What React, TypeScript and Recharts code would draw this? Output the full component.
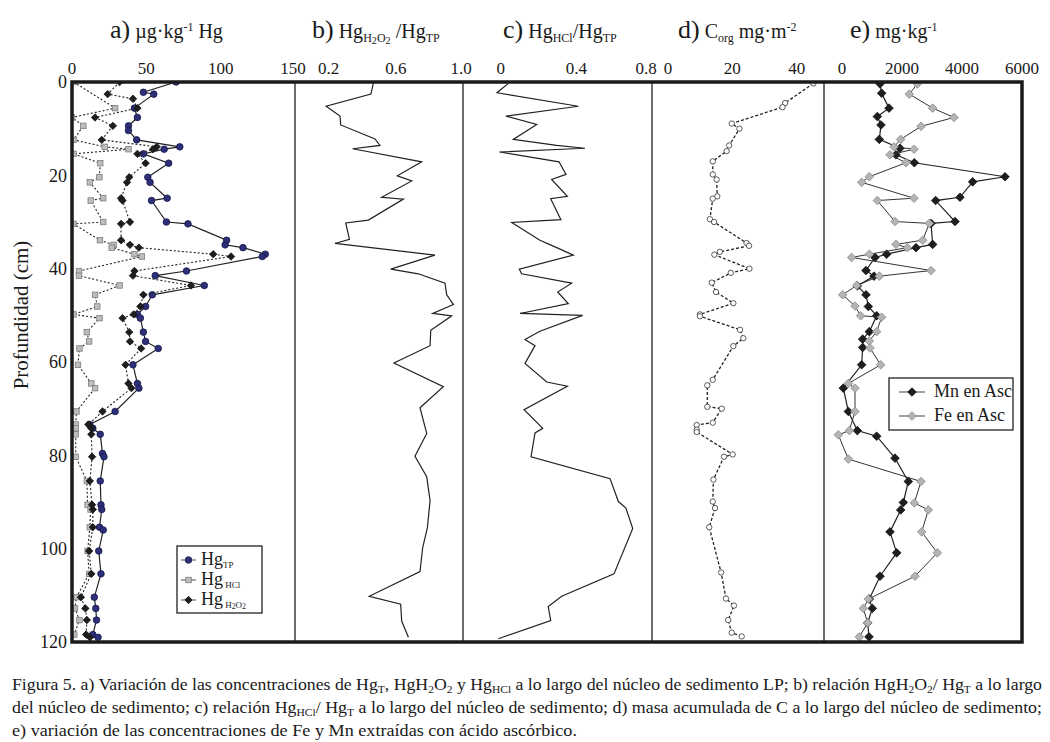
import React from "react";
import { ScatterChart, Scatter, XAxis, YAxis } from "recharts";

const FONT = '"Times New Roman", "Liberation Serif", Tinos, serif';
const INK = "#1a1a1a";
const W = 1050;
const H = 742;
const TOP = 82;
const BOTTOM = 642;
const PAD = 24;

// [depth cm, value]
const hgTP: [number, number][] = [
  [0, 70], [2.2, 48], [2.6, 55], [5.6, 42], [7.6, 44], [9.4, 38], [10.4, 38], [12.4, 43.5],
  [13.9, 72.5], [14.4, 62], [15.4, 48], [17.4, 65], [20.4, 51], [21.5, 52.5], [24.9, 64],
  [25.4, 53.5], [30, 63.5], [30.4, 78], [33.9, 104], [34.9, 103], [35.5, 115], [36.9, 130],
  [37.4, 128], [40.5, 77], [41.5, 56], [43.6, 89], [45.6, 54], [48.1, 49.5], [49.8, 44],
  [50.6, 46], [53.6, 48], [55.6, 49.5], [57.1, 58], [60.6, 41], [64.6, 44], [65.6, 45],
  [70.6, 29], [73.4, 12], [74.2, 14], [75.5, 19], [79.6, 20.5], [80.3, 21.5], [85.5, 19],
  [90.6, 19.5], [91.6, 20], [95.4, 18.5], [96, 21], [100.5, 18], [105.4, 19.5], [110.4, 15],
  [112.8, 16], [115.3, 16.5], [118.4, 14], [119, 17.5],
];

const hgHCl: [number, number][] = [
  [0, 1], [5.6, 29], [7.6, 0], [9.4, 7.6], [12.4, 1], [13.9, 22], [14.4, 38], [15.4, 1],
  [17.4, 19], [20.4, 18.4], [21.5, 12], [24.9, 21], [25.4, 12.6], [30, 21], [30.4, 1],
  [33.9, 18.8], [34.9, 28], [35.5, 26.7], [36.9, 42], [37.4, 47], [40.5, 4.7], [41.5, 4.7],
  [43.6, 32], [45.6, 15.5], [48.1, 17], [49.8, 1], [50.6, 18.5], [53.6, 10], [55.6, 11.5],
  [57.1, 5], [60.6, 4], [64.6, 13], [65.6, 15.5], [70.6, 3], [73.4, 2.5], [74.2, 2.5],
  [75.5, 2.5], [80.3, 2.5], [85.5, 10], [90.6, 10.5], [91.6, 12.5], [95.4, 12], [100.5, 10.5],
  [105.4, 11.5], [110.4, 3], [112.8, 2], [115.3, 5], [118.4, 1.5],
];

const hgH2O2: [number, number][] = [
  [0, 32], [2.6, 24], [3.6, 41], [5.6, 44], [7.6, 15.5], [9.4, 27.5], [12.4, 20], [13.9, 57],
  [14.4, 54.5], [15.4, 44], [17.4, 49.5], [20.4, 38.5], [21.5, 37], [24.9, 33], [25.4, 34],
  [30, 39], [30.4, 33], [33.9, 33], [34.9, 39], [35.5, 45], [36.9, 95], [37.4, 107],
  [40.5, 42], [41.5, 41], [43.6, 80], [45.6, 48], [48.1, 46], [49.8, 41.5], [50.6, 34],
  [53.6, 38.5], [55.6, 39], [57.1, 46.5], [60.6, 36], [64.6, 38], [65.6, 40], [70.6, 20.5],
  [73.4, 11], [74.2, 13], [75.5, 13], [80.3, 13.5], [85.5, 12], [90.6, 13.5], [91.6, 14],
  [95.4, 14], [100.5, 11.5], [105.4, 13], [110.4, 6], [112.8, 9], [115.3, 10], [118.4, 9.5],
  [119, 12],
];

const ratioH2O2: [number, number][] = [
  [0.3, 0.466], [2.6, 0.452], [5.2, 0.185], [7.3, 0.268], [9.2, 0.272], [12.2, 0.476],
  [13.6, 0.506], [14.3, 0.343], [17.1, 0.754], [20.1, 0.609], [21.2, 0.695], [24.7, 0.516],
  [25.1, 0.645], [29.6, 0.437], [30.2, 0.302], [33.7, 0.324], [34.6, 0.238], [37.1, 0.833],
  [40.1, 0.57], [41.1, 0.734], [43.1, 0.893], [45.6, 0.903], [47.7, 0.943], [49.6, 0.82],
  [50.1, 0.933], [53.2, 0.808], [56.5, 0.804], [60.2, 0.589], [65.3, 0.883], [69.8, 0.744],
  [75.3, 0.784], [80.2, 0.714], [84.6, 0.784], [89.7, 0.804], [95.5, 0.788], [99.8, 0.76],
  [104.9, 0.744], [110.2, 0.442], [111.9, 0.629], [115.5, 0.635], [119, 0.675],
];

const ratioHCl: [number, number][] = [
  [0.3, 0.04], [2.3, -0.02], [5.2, 0.41], [7.3, 0.027], [9.1, 0.19], [12.3, 0.066],
  [13.6, 0.296], [14.2, 0.445], [15, -0.008], [17.1, 0.308], [19.8, 0.345], [20.9, 0.269],
  [24.5, 0.352], [25, 0.264], [29.5, 0.318], [30.1, 0.058], [33.9, 0.207], [35, 0.269],
  [37.1, 0.384], [40.1, 0.098], [41.1, 0.11], [43.1, 0.375], [45, 0.301], [47.5, 0.357],
  [49.6, 0.102], [50, 0.433], [53.4, 0.207], [55.2, 0.128], [56.5, 0.181], [60.3, 0.128],
  [64.3, 0.243], [65.2, 0.352], [70.2, 0.123], [74.2, 0.222], [75.2, 0.181], [80.3, 0.16],
  [85, 0.578], [89.9, 0.622], [91.3, 0.662], [95.7, 0.698], [105.4, 0.599], [110.2, 0.322],
  [112.4, 0.251], [115.4, 0.264], [119.3, -0.013],
];

const cOrg: [number, number][] = [
  [0.3, 45.2], [4.5, 36.4], [5.4, 35.6], [8.9, 19.8], [10, 22.2], [13.6, 19], [14.8, 18.2],
  [17, 13.9], [19.8, 13.9], [20.9, 15.1], [24.5, 15.3], [25, 13.9], [29.4, 13], [30, 14.3],
  [34.5, 24.4], [35.1, 25.2], [36.4, 16.1], [37, 14.4], [40, 25.3], [40.9, 19.5], [43, 13.6],
  [45, 14.9], [47.4, 20.3], [49.8, 9.9], [50.2, 9.9], [53.1, 22.4], [54.9, 23.4], [56.6, 20.3],
  [63.8, 13.9], [65, 12.2], [69.6, 12.2], [70, 16.7], [73, 13.9], [73.5, 8.9], [74.5, 8.9],
  [75, 8.9], [79.8, 20.1], [80.3, 17.4], [85.2, 14.1], [89.9, 13.9], [91.3, 14.6], [95.4, 12.8],
  [105.1, 16.5], [110.7, 18], [112.2, 20.5], [115.3, 18.7], [118, 19.8], [118.8, 22.9],
];

const mnAsc: [number, number][] = [
  [0.4, 1267], [2.4, 1322], [5.6, 1567], [7.4, 1178], [9.2, 1300], [12.3, 1244], [14.2, 1933],
  [15.6, 1800], [17.3, 2411], [20.3, 5433], [21.4, 4356], [24.7, 3933], [25.4, 3122],
  [29.9, 3767], [30.3, 2967], [34.8, 3022], [35.5, 2467], [36.9, 1489], [37.6, 1100],
  [40.4, 800], [41.6, 1067], [43.7, 511], [45.6, 800], [48.1, 878], [50.1, 1156], [53.5, 911],
  [55.1, 689], [56.9, 689], [60.6, 656], [65.6, 44], [70.6, 211], [74.7, 511], [75.9, 1156],
  [80.6, 1767], [85.6, 2211], [90.1, 2044], [91.7, 1956], [96.4, 1600], [100.9, 1822],
  [105.9, 1267], [110.8, 911], [112.8, 1011], [115.9, 856], [118.9, 900],
];

const feAsc: [number, number][] = [
  [0.4, 2511], [2.6, 2244], [5.6, 3022], [7.6, 3733], [9.5, 2633], [12.3, 1956], [13.9, 1733],
  [14.4, 2400], [15.6, 1600], [17.3, 2133], [20.3, 911], [21.5, 656], [24.9, 2400],
  [25.4, 1178], [29.9, 1767], [30.3, 2911], [33.9, 2689], [34.8, 1800], [35.5, 2178],
  [36.9, 911], [37.6, 322], [40.4, 2967], [41.6, 1244], [43.6, 489], [45.6, 22], [48, 433],
  [50.1, 622], [50.4, 1322], [53.5, 1156], [55.5, 911], [57, 933], [60.6, 1289], [64.6, 211],
  [65.6, 433], [70.6, 433], [74.7, 244], [75.6, -122], [80.8, 211], [85.6, 2633], [90.2, 2411],
  [91.7, 2878], [96.4, 2656], [100.9, 3178], [105.9, 2433], [110.8, 878], [112.8, 711],
  [115.9, 856], [118.9, 578],
];

const depthTicks = [0, 20, 40, 60, 80, 100, 120];

const toPts = (rows: [number, number][]) => rows.map(([depth, value]) => ({ depth, value }));

const dot = (r: number, fill: string, stroke: string) => (p: any) =>
  <circle cx={p.cx} cy={p.cy} r={r} fill={fill} stroke={stroke} strokeWidth={0.8} />;
const square = (s: number, fill: string, stroke: string) => (p: any) =>
  <rect x={p.cx - s / 2} y={p.cy - s / 2} width={s} height={s} fill={fill} stroke={stroke} strokeWidth={0.8} />;
const diamond = (s: number, fill: string, stroke: string) => (p: any) =>
  <polygon
    points={`${p.cx},${p.cy - s} ${p.cx + s},${p.cy} ${p.cx},${p.cy + s} ${p.cx - s},${p.cy}`}
    fill={fill} stroke={stroke} strokeWidth={0.8}
  />;
const noDot = () => <g />;

const NAVY = "#2d2f78";
const solid = { stroke: "#222", strokeWidth: 1.2 };
const dotted = { stroke: "#222", strokeWidth: 1.1, strokeDasharray: "2 2" };

const one = (v: number) => (v === 0 ? "0" : v.toFixed(1));

const panels = [
  {
    id: "a", left: 72, right: 295, domain: [0, 150], ticks: [0, 50, 100, 150], minor: [50, 100],
    fmt: String, axis: true, lastShift: -2,
    series: [
      { name: "TP", data: hgTP, shape: dot(3.3, NAVY, "#15164a"), line: solid },
      { name: "HCl", data: hgHCl, shape: square(5.5, "#bdbdbd", "#7d7d7d"), line: dotted },
      { name: "H2O2", data: hgH2O2, shape: diamond(3.7, "#1e1e1e", "#111"), line: dotted },
    ],
  },
  {
    id: "b", left: 295, right: 463, domain: [0, 1], ticks: [0.2, 0.6, 1], minor: [0.2, 0.4, 0.6, 0.8],
    fmt: one, axis: false, lastShift: -2,
    series: [{ name: "rH2O2", data: ratioH2O2, shape: noDot, line: solid }],
  },
  {
    id: "c", left: 463, right: 652, domain: [-0.2, 0.8], ticks: [0, 0.4, 0.8], minor: [0, 0.2, 0.4, 0.6],
    fmt: one, axis: false, lastShift: -6,
    series: [{ name: "rHCl", data: ratioHCl, shape: noDot, line: solid }],
  },
  {
    id: "d", left: 652, right: 824, domain: [-5, 48.5], ticks: [0, 20, 40], minor: [0, 10, 20, 30, 40],
    fmt: String, axis: false, lastShift: 0,
    series: [{ name: "Corg", data: cOrg, shape: dot(2.7, "#fff", "#333"), line: { stroke: "#222", strokeWidth: 1.3, strokeDasharray: "3 2" } }],
  },
  {
    id: "e", left: 824, right: 1022, domain: [-600, 6000], ticks: [0, 2000, 4000, 6000],
    minor: [0, 1000, 2000, 3000, 4000, 5000], fmt: String, axis: false, lastShift: 0,
    series: [
      { name: "Mn", data: mnAsc, shape: diamond(4.3, "#1e1e1e", "#111"), line: solid },
      { name: "Fe", data: feAsc, shape: diamond(4.3, "#b4b4b4", "#8a8a8a"), line: { stroke: "#333", strokeWidth: 1 } },
    ],
  },
];

function Panel({ p }: { p: (typeof panels)[number] }) {
  const chartLeft = p.axis ? 0 : p.left - PAD;
  const width = p.right + PAD - chartLeft;
  const last = p.ticks[p.ticks.length - 1];
  const topTick = (props: any) => {
    const v = props.payload.value;
    return (
      <text
        x={props.x + (v === last ? p.lastShift : 0)} y={props.y} textAnchor="middle"
        fontSize={17} fontFamily={FONT} fill={INK}
      >
        {p.fmt(v)}
      </text>
    );
  };
  return (
    <div style={{ position: "absolute", left: chartLeft, top: 0 }}>
      <ScatterChart
        width={width}
        height={H}
        margin={{ top: TOP - 20, bottom: H - BOTTOM, left: p.axis ? 0 : PAD, right: PAD }}
      >
        <XAxis
          xAxisId="main" type="number" dataKey="value" orientation="top" height={20}
          domain={p.domain as [number, number]} ticks={p.ticks} allowDataOverflow interval={0}
          axisLine={false} tickLine={false} tickSize={0} tickMargin={8} tick={topTick}
        />
        <XAxis
          xAxisId="minor" type="number" orientation="top" mirror height={0}
          domain={p.domain as [number, number]} ticks={p.minor} allowDataOverflow interval={0}
          axisLine={false} tick={false} tickSize={4} tickLine={{ stroke: "#666" }}
        />
        <YAxis
          type="number" dataKey="depth" domain={[0, 120]} reversed ticks={depthTicks}
          allowDataOverflow interval={0} hide={!p.axis} width={p.axis ? p.left : 0}
          axisLine={false} tickLine={false} tickSize={0} tickMargin={5}
          tick={{ fontSize: 18, fill: INK, fontFamily: FONT }}
        />
        {p.series.map((s) => (
          <Scatter
            key={s.name}
            name={s.name}
            xAxisId="main"
            data={toPts(s.data)}
            shape={s.shape}
            line={s.line}
            lineType="joint"
            isAnimationActive={false}
          />
        ))}
      </ScatterChart>
    </div>
  );
}

type Seg = [string, ("sub" | "sup" | "sub2")?];

function Rich({ segs, size, small, shift }: { segs: Seg[]; size: number; small: number; shift: number }) {
  let cur = 0;
  return (
    <>
      {segs.map(([t, k], i) => {
        const target = k === "sub" ? shift : k === "sub2" ? shift * 1.6 : k === "sup" ? -shift * 1.7 : 0;
        const dy = target - cur;
        cur = target;
        return (
          <tspan key={i} dy={dy} fontSize={k === "sub2" ? small * 0.85 : k ? small : size}>
            {t}
          </tspan>
        );
      })}
    </>
  );
}

const titles: { x: number; letter: string; segs: Seg[] }[] = [
  { x: 110, letter: "a)", segs: [[" µg·kg"], ["-1", "sup"], [" Hg"]] },
  { x: 312, letter: "b)", segs: [[" Hg"], ["H", "sub"], ["2", "sub2"], ["O", "sub"], ["2", "sub2"], [" /Hg"], ["TP", "sub"]] },
  { x: 503, letter: "c)", segs: [[" Hg"], ["HCl", "sub"], ["/Hg"], ["TP", "sub"]] },
  { x: 678, letter: "d)", segs: [[" C"], ["org", "sub"], [" mg·m"], ["-2", "sup"]] },
  { x: 850, letter: "e)", segs: [[" mg·kg"], ["-1", "sup"]] },
];

const caption: { y: number; len: number; segs: Seg[] }[] = [
  {
    y: 690, len: 1030,
    segs: [
      ["Figura 5. a) Variación de las concentraciones de Hg"], ["T", "sub"], [", HgH"], ["2", "sub"],
      ["O"], ["2", "sub"], [" y Hg"], ["HCl", "sub"],
      [" a lo largo del núcleo de sedimento LP; b) relación HgH"], ["2", "sub"], ["O"], ["2", "sub"],
      ["/ Hg"], ["T", "sub"], [" a lo largo"],
    ],
  },
  {
    y: 713, len: 1030,
    segs: [
      ["del núcleo de sedimento; c) relación Hg"], ["HCl", "sub"], ["/ Hg"], ["T", "sub"],
      [" a lo largo del núcleo de sedimento; d) masa acumulada de C a lo largo del núcleo de sedimento;"],
    ],
  },
  {
    y: 736, len: 565,
    segs: [["e) variación de las concentraciones de Fe y Mn extraídas con ácido ascórbico."]],
  },
];

function Overlay() {
  const dividers = [295, 463, 652, 824];
  return (
    <svg width={W} height={H} style={{ position: "absolute", left: 0, top: 0, pointerEvents: "none" }}>
      {dividers.map((x) => (
        <line key={x} x1={x} x2={x} y1={TOP} y2={BOTTOM} stroke="#4a4a4a" strokeWidth={1.6} />
      ))}
      <rect x={72} y={TOP} width={1022 - 72} height={BOTTOM - TOP} fill="none" stroke={INK} strokeWidth={3.5} />

      {titles.map((t) => (
        <text key={t.letter} x={t.x} y={38} fontFamily={FONT} fill={INK}>
          <tspan fontSize={26}>{t.letter}</tspan>
          <Rich segs={t.segs} size={20} small={12} shift={4} />
        </text>
      ))}

      <text
        transform="translate(28,315) rotate(-90)" textAnchor="middle"
        fontFamily={FONT} fontSize={21} fill={INK}
      >
        Profundidad (cm)
      </text>

      {/* legend a */}
      <rect x={177} y={546} width={85} height={67} fill="#fff" stroke="#222" strokeWidth={1.3} />
      {[
        { y: 560, shape: dot(3.3, NAVY, "#15164a"), segs: [["Hg"], ["TP", "sub"]] as Seg[] },
        { y: 580, shape: square(5.5, "#bdbdbd", "#7d7d7d"), segs: [["Hg"], [" HCl", "sub"]] as Seg[] },
        { y: 600, shape: diamond(3.7, "#1e1e1e", "#111"), segs: [["Hg"], [" H", "sub"], ["2", "sub2"], ["O", "sub"], ["2", "sub2"]] as Seg[] },
      ].map((r, i) => (
        <g key={i}>
          <line x1={181} x2={196} y1={r.y} y2={r.y} stroke="#555" strokeWidth={1} />
          {r.shape({ cx: 188.5, cy: r.y })}
          <text x={201} y={r.y + 5} fontFamily={FONT} fill={INK}>
            <Rich segs={r.segs} size={18} small={9} shift={2.5} />
          </text>
        </g>
      ))}

      {/* legend e */}
      <rect x={889} y={378} width={124} height={52} fill="#fff" stroke="#222" strokeWidth={1.3} />
      {[
        { y: 392, shape: diamond(4.3, "#1e1e1e", "#111"), label: "Mn en Asc" },
        { y: 416, shape: diamond(4.3, "#b4b4b4", "#8a8a8a"), label: "Fe en Asc" },
      ].map((r) => (
        <g key={r.label}>
          <line x1={899} x2={925} y1={r.y} y2={r.y} stroke="#444" strokeWidth={1} />
          {r.shape({ cx: 912, cy: r.y })}
          <text x={934} y={r.y + 5} fontFamily={FONT} fontSize={18} fill={INK}>
            {r.label}
          </text>
        </g>
      ))}

      {caption.map((c) => (
        <text
          key={c.y} x={12} y={c.y} fontFamily={FONT} fill={INK}
          textLength={c.len} lengthAdjust="spacingAndGlyphs"
        >
          <Rich segs={c.segs} size={17} small={11} shift={3} />
        </text>
      ))}
    </svg>
  );
}

export default function App() {
  return (
    <div style={{ position: "absolute", left: 0, top: 0, width: W, height: H, background: "#fff", overflow: "hidden" }}>
      {panels.map((p) => (
        <Panel key={p.id} p={p} />
      ))}
      <Overlay />
    </div>
  );
}
